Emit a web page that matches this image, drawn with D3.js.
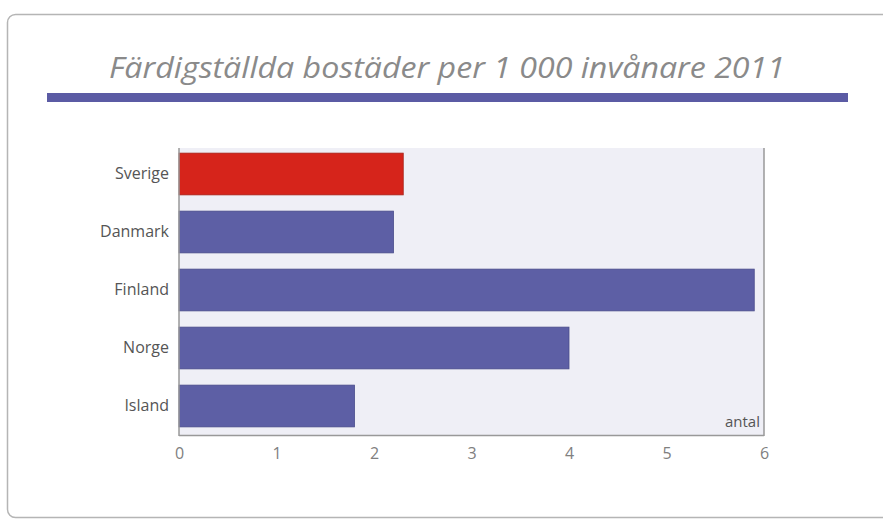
<!DOCTYPE html>
<html><head><meta charset="utf-8">
<script src="https://cdn.jsdelivr.net/npm/d3@7"></script>
<style>body{margin:0;background:#fff}</style>
</head><body>
<script>
const categories = ["Sverige","Danmark","Finland","Norge","Island"];
const values = [2.3, 2.2, 5.9, 4.0, 1.8];
const highlight = ["Sverige"];
const tickValues = [0,1,2,3,4,5,6];
const title = "Färdigställda bostäder per 1 000 invånare 2011";
const unitLabel = "antal";

const W = 883, H = 520;
const svg = d3.select("body").append("svg").attr("width", W).attr("height", H);

// outer frame
svg.append("rect").attr("x",7.5).attr("y",14.5).attr("width",890).attr("height",503)
  .attr("rx",8).attr("fill","#fff").attr("stroke","#b5b5b5").attr("stroke-width",1.5);

// title
svg.append("text").attr("x",447).attr("y",78).attr("text-anchor","middle")
  .attr("font-family","'Open Sans', sans-serif").attr("font-style","italic").attr("font-weight",500)
  .attr("font-size",30).attr("fill","#8a8a8a")
  .attr("textLength",676).attr("lengthAdjust","spacingAndGlyphs").text(title);
svg.append("rect").attr("x",47).attr("y",93).attr("width",801).attr("height",9).attr("fill","#5b5ba4");

const x = d3.scaleLinear().domain([0,6]).range([179,764]);
const y = d3.scaleBand().domain(categories).range([145,435]).paddingInner(0.28).paddingOuter(0.14);

// plot background
svg.append("rect").attr("x",x(0)).attr("y",148).attr("width",x(6)-x(0)).attr("height",435-148).attr("fill","#efeff6");

// bars
svg.selectAll("rect.bar").data(categories).enter().append("rect").attr("class","bar")
  .attr("x",x(0)).attr("y",d=>y(d))
  .attr("width",(d,i)=>x(values[i])-x(0)).attr("height",y.bandwidth())
  .attr("fill",d=>highlight.includes(d)?"#d6241b":"#5d5fa5")
  .attr("stroke",d=>highlight.includes(d)?"#a8241c":"#4a4c8a").attr("stroke-width",0.8);

// frame lines
svg.append("line").attr("x1",x(0)).attr("x2",x(0)).attr("y1",148).attr("y2",436).attr("stroke","#999").attr("stroke-width",1.5);
svg.append("line").attr("x1",x(6)).attr("x2",x(6)).attr("y1",148).attr("y2",436).attr("stroke","#999").attr("stroke-width",1.5);
svg.append("line").attr("x1",x(0)).attr("x2",x(6)).attr("y1",435.5).attr("y2",435.5).attr("stroke","#999").attr("stroke-width",1.5);

// x axis
const xa = svg.append("g").attr("transform","translate(0,436)")
  .call(d3.axisBottom(x).tickValues(tickValues).tickSize(0).tickPadding(12).tickFormat(d3.format("d")));
xa.select(".domain").remove();
xa.selectAll("text").attr("font-family","'Open Sans', sans-serif").attr("font-size",16).attr("fill","#808080");

// y axis
const ya = svg.append("g").attr("transform",`translate(${x(0)},0)`)
  .call(d3.axisLeft(y).tickSize(0).tickPadding(10));
ya.select(".domain").remove();
ya.selectAll("text").attr("font-family","'Open Sans', sans-serif").attr("font-size",16).attr("fill","#555");

svg.append("text").attr("x",x(6)-4).attr("y",427).attr("text-anchor","end")
  .attr("font-family","'Open Sans', sans-serif").attr("font-size",15).attr("fill","#555").text(unitLabel);
</script>
</body></html>
